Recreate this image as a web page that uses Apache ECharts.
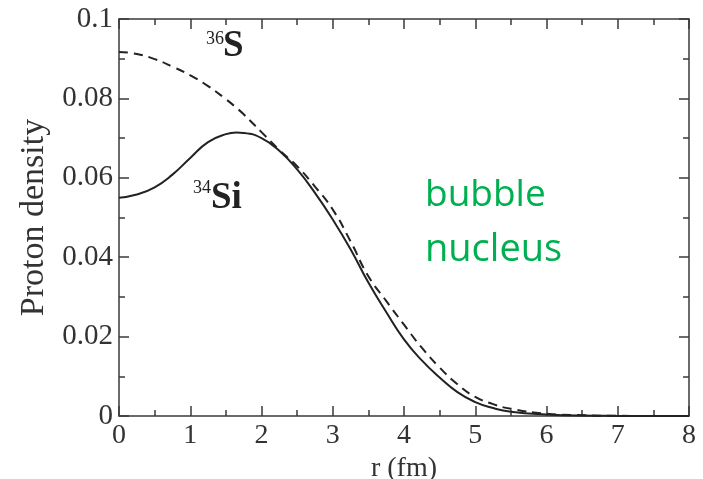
<!DOCTYPE html>
<html>
<head>
<meta charset="utf-8">
<script src="https://cdn.jsdelivr.net/npm/echarts@6/dist/echarts.min.js"></script>
<style>
  html, body { margin: 0; padding: 0; background: #fff; }
  #chart { width: 703px; height: 479px; }
</style>
</head>
<body>
<div id="chart"></div>
<script>
// radius in fm
var rValues = [0, 0.25, 0.5, 0.75, 1, 1.25, 1.5, 1.65, 1.75, 2, 2.25, 2.5, 2.75, 3, 3.25, 3.5, 3.75, 4, 4.25, 4.5, 4.75, 5, 5.25, 5.5, 6, 6.5, 7, 7.5, 8];
// 34Si proton density (solid)
var siDensity = [0.0550, 0.0558, 0.0576, 0.0608, 0.0650, 0.0690, 0.0710, 0.0714, 0.0713, 0.0700, 0.0668, 0.0621, 0.0562, 0.0495, 0.0420, 0.0336, 0.0262, 0.0193, 0.0140, 0.0097, 0.0060, 0.0035, 0.0020, 0.0011, 0.0004, 0.0001, 0.00003, 0.00001, 0];
// 36S proton density (dashed)
var sDensity = [0.0917, 0.0912, 0.0899, 0.0880, 0.0858, 0.0831, 0.0798, 0.0776, 0.0760, 0.0715, 0.0670, 0.0629, 0.0578, 0.0520, 0.0440, 0.0352, 0.0290, 0.0230, 0.0172, 0.0122, 0.0080, 0.0048, 0.0030, 0.0018, 0.0006, 0.0002, 0.00005, 0.00001, 0];

var xTickLabels = ['0', '1', '2', '3', '4', '5', '6', '7', '8'];
var yTickLabels = ['0', '0.02', '0.04', '0.06', '0.08', '0.1'];

function pairs(xs, ys) {
    return xs.map(function (x, i) { return [x, ys[i]]; });
}

var serif = '"Liberation Serif", "Times New Roman", serif';
var axisColor = '#3a3a3a';
var textColor = '#333';

var chart = echarts.init(document.getElementById('chart'));

var frameAxis = {
    axisLine: { show: true, onZero: false, lineStyle: { color: axisColor, width: 1.5 } },
    axisTick: { show: true, inside: true, length: 10, lineStyle: { color: axisColor, width: 1.5 } },
    minorTick: { show: true, splitNumber: 2, length: 6, lineStyle: { color: axisColor, width: 1.5 } },
    splitLine: { show: false }
};

var option = {
    animation: false,
    backgroundColor: '#fff',
    textStyle: { fontFamily: serif },
    grid: { left: 119, top: 19, right: 14, bottom: 63, containLabel: false, outerBoundsMode: 'none' },
    xAxis: [
        Object.assign({
            type: 'value', min: 0, max: 8, interval: 1, position: 'bottom',
            name: 'r (fm)', nameLocation: 'middle', nameGap: 37,
            nameTextStyle: { fontFamily: serif, fontSize: 28, color: textColor },
            axisLabel: {
                margin: 6, fontFamily: serif, fontSize: 28, color: textColor,
                formatter: function (v) { return xTickLabels[Math.round(v)]; }
            }
        }, frameAxis),
        Object.assign({
            type: 'value', min: 0, max: 8, interval: 1, position: 'top',
            axisLabel: { show: false }
        }, frameAxis)
    ],
    yAxis: [
        Object.assign({
            type: 'value', min: 0, max: 0.1, interval: 0.02, position: 'left',
            name: 'Proton density', nameLocation: 'middle', nameGap: 62,
            nameTextStyle: { fontFamily: serif, fontSize: 34, color: textColor },
            axisLabel: {
                margin: 6, fontFamily: serif, fontSize: 29, color: textColor,
                formatter: function (v) { return yTickLabels[Math.round(v / 0.02)]; }
            }
        }, frameAxis),
        Object.assign({
            type: 'value', min: 0, max: 0.1, interval: 0.02, position: 'right',
            axisLabel: { show: false }
        }, frameAxis)
    ],
    series: [
        {
            name: '36S', type: 'line', data: pairs(rValues, sDensity),
            showSymbol: false, smooth: 0.5,
            lineStyle: { color: '#222', width: 2, type: [9, 6] }
        },
        {
            name: '34Si', type: 'line', data: pairs(rValues, siDensity),
            showSymbol: false, smooth: 0.5,
            lineStyle: { color: '#222', width: 2 }
        }
    ],
    graphic: [
        { type: 'text', x: 206, y: 39, style: { text: '36', font: '18px "Liberation Serif"', fill: '#222', verticalAlign: 'middle' } },
        { type: 'text', x: 223, y: 46, style: { text: 'S', font: 'bold 37px "Liberation Serif"', fill: '#222', verticalAlign: 'middle' } },
        { type: 'text', x: 193, y: 188, style: { text: '34', font: '18px "Liberation Serif"', fill: '#222', verticalAlign: 'middle' } },
        { type: 'text', x: 211, y: 198, style: { text: 'Si', font: 'bold 37px "Liberation Serif"', fill: '#222', verticalAlign: 'middle' } },
        { type: 'text', x: 425, y: 195, style: { text: 'bubble', font: '37px "Open Sans"', fill: '#00b050', verticalAlign: 'middle' } },
        { type: 'text', x: 425, y: 250, style: { text: 'nucleus', font: '38px "Open Sans"', fill: '#00b050', verticalAlign: 'middle' } }
    ]
};

chart.setOption(option);
</script>
</body>
</html>
